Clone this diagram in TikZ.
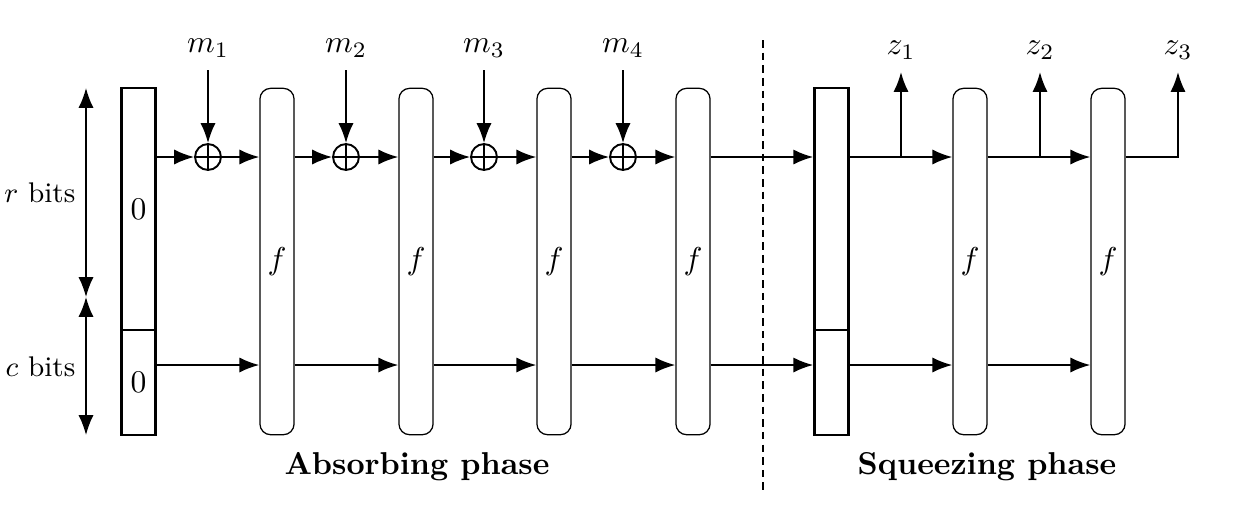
\documentclass[tikz,border=0pt]{standalone}
\usetikzlibrary{arrows.meta}
\begin{document}
\begin{tikzpicture}[x=0.3164pt,y=-0.3164pt,
  arr/.style={line width=0.6pt,-{Latex[length=6.3pt,width=4.8pt]}},
  dblarr/.style={line width=0.5pt,{Latex[length=6.3pt,width=4.8pt]}-{Latex[length=6.3pt,width=4.8pt]}},
  fbox/.style={draw,line width=0.4pt,rounded corners=3.4pt,minimum width=10.8pt,minimum height=109.6pt,inner sep=0pt},
  sbox/.style={draw,line width=0.75pt,minimum width=10.8pt,inner sep=0pt},
  xor/.style={draw,line width=0.6pt,circle,minimum size=8.2pt,inner sep=0pt,
    path picture={\draw[line width=0.6pt] (path picture bounding box.north) -- (path picture bounding box.south)
      (path picture bounding box.west) -- (path picture bounding box.east);}},
  bitlabel/.style={anchor=east,inner sep=0pt,font=\small},
  phase/.style={font=\bfseries}]
\useasboundingbox (0,0) rectangle (1242,524);

% rows
\coordinate (r1) at (0,157);
\coordinate (r2) at (0,365);

% initial state
\node[sbox,minimum height=76.6pt] (s0t) at (138.5,209) {$0$};
\node[sbox,minimum height=33.2pt] (s0b) at (138.5,382.5) {$0$};
% squeezing state
\node[sbox,minimum height=76.6pt] (s1t) at (831.5,209) {};
\node[sbox,minimum height=33.2pt] (s1b) at (831.5,382.5) {};

% f boxes
\foreach \i/\x in {1/277,2/416,3/554,4/693,5/970,6/1108}
  \node[fbox] (f\i) at (\x,261.5) {$f$};

% xors and message inputs
\foreach \i/\x in {1/208,2/346,3/484,4/623}{
  \node[xor] (x\i) at (\x,157) {};
  \node (m\i) at (\x,48) {$m_{\i}$};
  \coordinate (mt\i) at (\x,70);
  \draw[arr] (mt\i) -- (x\i.north);
}

% absorbing top row
\draw[arr] (s0t.east |- r1) -- (x1.west);
\draw[arr] (x1.east) -- (f1.west |- r1);
\draw[arr] (f1.east |- r1) -- (x2.west);
\draw[arr] (x2.east) -- (f2.west |- r1);
\draw[arr] (f2.east |- r1) -- (x3.west);
\draw[arr] (x3.east) -- (f3.west |- r1);
\draw[arr] (f3.east |- r1) -- (x4.west);
\draw[arr] (x4.east) -- (f4.west |- r1);
\draw[arr] (f4.east |- r1) -- (s1t.west |- r1);

% bottom row
\draw[arr] (s0b.east |- r2) -- (f1.west |- r2);
\draw[arr] (f1.east |- r2) -- (f2.west |- r2);
\draw[arr] (f2.east |- r2) -- (f3.west |- r2);
\draw[arr] (f3.east |- r2) -- (f4.west |- r2);
\draw[arr] (f4.east |- r2) -- (s1b.west |- r2);
\draw[arr] (s1b.east |- r2) -- (f5.west |- r2);
\draw[arr] (f5.east |- r2) -- (f6.west |- r2);

% squeezing top row
\draw[arr] (s1t.east |- r1) -- (f5.west |- r1);
\draw[arr] (f5.east |- r1) -- (f6.west |- r1);
\coordinate (j1) at (901,157);
\coordinate (j2) at (1040,157);
\coordinate (j3) at (1178,157);
\node (z1) at (901,50) {$z_1$};
\node (z2) at (1040,50) {$z_2$};
\node (z3) at (1178,50) {$z_3$};
\coordinate (zt1) at (901,72);
\coordinate (zt2) at (1040,72);
\coordinate (zt3) at (1178,72);
\draw[arr] (j1) -- (zt1);
\draw[arr] (j2) -- (zt2);
\draw[arr] (f6.east |- r1) -- (j3) -- (zt3);

% bit ranges
\coordinate (ba) at (86,88);
\coordinate (bm) at (86,297);
\coordinate (bb) at (86,435);
\draw[dblarr] (ba) -- (bm);
\draw[dblarr] (bm) -- (bb);
\node[bitlabel] (rl) at (76,193) {$r$ bits};
\node[bitlabel] (cl) at (76,367) {$c$ bits};

% separator
\coordinate (d1) at (763,40);
\coordinate (d2) at (763,490);
\draw[line width=0.6pt,dash pattern=on 2.4pt off 1.6pt] (d1) -- (d2);

% phase labels
\node[phase] (ap) at (417,467) {Absorbing phase};
\node[phase] (sp) at (987,467) {Squeezing phase};
\end{tikzpicture}
\end{document}
